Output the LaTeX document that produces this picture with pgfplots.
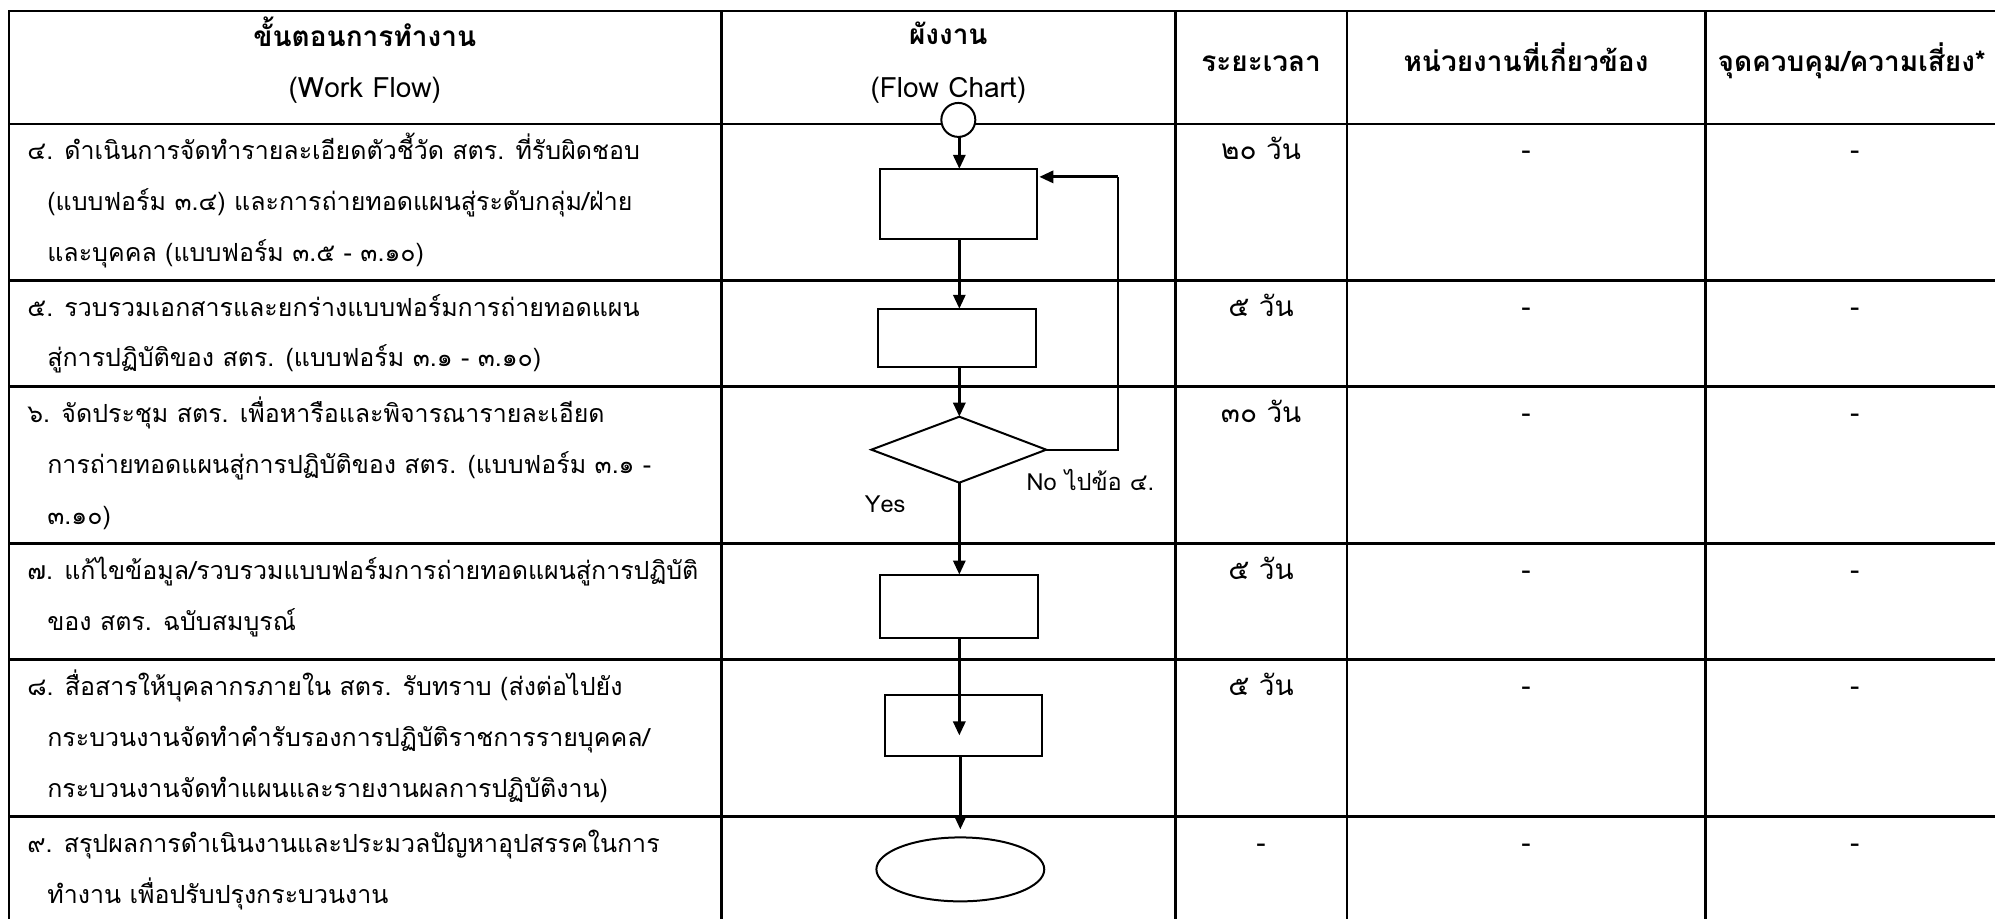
\documentclass[border=0pt]{standalone}
\usepackage{fontspec}
\setmainfont[Script=Thai]{Loma}
\usepackage{pgfplots}
\pgfplotsset{compat=1.18}
\usetikzlibrary{arrows.meta}
\tikzset{
  tl/.style={black, line width=1.4pt, mark=none, line cap=rect},
  bx/.style={black, line width=1pt, mark=none, fill=white},
  ar/.style={black, line width=1.5pt, mark=none, -{Triangle[length=7pt,width=6pt]}},
  txt/.style={anchor=base west, inner sep=0pt, font=\fontsize{12.5}{15}\selectfont},
  lbl/.style={anchor=base west, inner sep=0pt, font=\fontsize{11.8}{14}\selectfont},
  ctr/.style={anchor=base, inner sep=0pt, font=\fontsize{14}{16}\selectfont},
  hd/.style={anchor=base, inner sep=0pt, font=\fontsize{14}{16}\selectfont\bfseries},
}
\begin{document}
\begin{tikzpicture}
\begin{axis}[hide axis, scale only axis, x=0.5pt, y=0.5pt, y dir=reverse,
  xmin=0, xmax=1995, ymin=0, ymax=918, clip=false]
% bounding frame (invisible)
\addplot[draw=none, mark=none] coordinates {(0,0) (1995,918)};
% table horizontal lines
\addplot[tl] coordinates {(9,11) (1995,11)};
\addplot[tl] coordinates {(9,124) (1995,124)};
\addplot[tl] coordinates {(9,281) (1995,281)};
\addplot[tl] coordinates {(9,387) (1995,387)};
\addplot[tl] coordinates {(9,544) (1995,544)};
\addplot[tl] coordinates {(9,660) (1995,660)};
\addplot[tl] coordinates {(9,817) (1995,817)};
% table vertical lines
\addplot[tl] coordinates {(9,11) (9,918)};
\addplot[tl] coordinates {(722,11) (722,918)};
\addplot[tl] coordinates {(1176,11) (1176,918)};
\addplot[tl] coordinates {(1348,11) (1348,918)};
\addplot[tl] coordinates {(1707,11) (1707,918)};
% headers
\node[hd] at (axis cs:365,47) {ขั้นตอนการทำงาน};
\node[ctr] at (axis cs:365,98) {(Work Flow)};
\node[hd] at (axis cs:949,45) {ผังงาน};
\node[ctr] at (axis cs:949,98) {(Flow Chart)};
\node[hd] at (axis cs:1262,72) {ระยะเวลา};
\node[hd] at (axis cs:1527,72) {หน่วยงานที่เกี่ยวข้อง};
\node[hd] at (axis cs:1853,72) {จุดควบคุม/ความเสี่ยง*};
% row 4
\node[txt] at (axis cs:27,160) {๔. ดำเนินการจัดทำรายละเอียดตัวชี้วัด สตร. ที่รับผิดชอบ};
\node[txt] at (axis cs:47,211) {(แบบฟอร์ม ๓.๔) และการถ่ายทอดแผนสู่ระดับกลุ่ม/ฝ่าย};
\node[txt] at (axis cs:47,262) {และบุคคล (แบบฟอร์ม ๓.๕ - ๓.๑๐)};
% row 5
\node[txt] at (axis cs:27,317) {๕. รวบรวมเอกสารและยกร่างแบบฟอร์มการถ่ายทอดแผน};
\node[txt] at (axis cs:47,367) {สู่การปฏิบัติของ สตร. (แบบฟอร์ม ๓.๑ - ๓.๑๐)};
% row 6
\node[txt] at (axis cs:27,423) {๖. จัดประชุม สตร. เพื่อหารือและพิจารณารายละเอียด};
\node[txt] at (axis cs:47,474) {การถ่ายทอดแผนสู่การปฏิบัติของ สตร. (แบบฟอร์ม ๓.๑ -};
\node[txt] at (axis cs:47,525) {๓.๑๐)};
% row 7
\node[txt] at (axis cs:27,580) {๗. แก้ไขข้อมูล/รวบรวมแบบฟอร์มการถ่ายทอดแผนสู่การปฏิบัติ};
\node[txt] at (axis cs:47,631) {ของ สตร. ฉบับสมบูรณ์};
% row 8
\node[txt] at (axis cs:27,696) {๘. สื่อสารให้บุคลากรภายใน สตร. รับทราบ (ส่งต่อไปยัง};
\node[txt] at (axis cs:47,747) {กระบวนงานจัดทำคำรับรองการปฏิบัติราชการรายบุคคล/};
\node[txt] at (axis cs:47,798) {กระบวนงานจัดทำแผนและรายงานผลการปฏิบัติงาน)};
% row 9
\node[txt] at (axis cs:27,853) {๙. สรุปผลการดำเนินงานและประมวลปัญหาอุปสรรคในการ};
\node[txt] at (axis cs:47,904) {ทำงาน เพื่อปรับปรุงกระบวนงาน};
% duration column
\node[ctr] at (axis cs:1262,160) {๒๐ วัน};
\node[ctr] at (axis cs:1262,317) {๕ วัน};
\node[ctr] at (axis cs:1262,423) {๓๐ วัน};
\node[ctr] at (axis cs:1262,580) {๕ วัน};
\node[ctr] at (axis cs:1262,696) {๕ วัน};
\node[ctr] at (axis cs:1262,853) {-};
% related units and control points
\node[ctr] at (axis cs:1527,160) {-};
\node[ctr] at (axis cs:1527,317) {-};
\node[ctr] at (axis cs:1527,423) {-};
\node[ctr] at (axis cs:1527,580) {-};
\node[ctr] at (axis cs:1527,696) {-};
\node[ctr] at (axis cs:1527,853) {-};
\node[ctr] at (axis cs:1856,160) {-};
\node[ctr] at (axis cs:1856,317) {-};
\node[ctr] at (axis cs:1856,423) {-};
\node[ctr] at (axis cs:1856,580) {-};
\node[ctr] at (axis cs:1856,696) {-};
\node[ctr] at (axis cs:1856,853) {-};
% flowchart connectors
\addplot[ar] coordinates {(960,137) (960,169)};
\addplot[ar] coordinates {(960,239) (960,309)};
\addplot[ar] coordinates {(960,367) (960,417)};
\addplot[ar] coordinates {(960,483) (960,575)};
% feedback loop
\addplot[black, line width=1pt, mark=none] coordinates {(1047,450) (1119,450) (1119,177)};
\addplot[ar] coordinates {(1119,177) (1040,177)};
% boxes
\addplot[bx] coordinates {(881,169) (1038,169) (1038,239) (881,239)} -- cycle;
\addplot[bx] coordinates {(879,309) (1037,309) (1037,367) (879,367)} -- cycle;
\addplot[bx] coordinates {(872,450) (960,417) (1047,450) (960,483)} -- cycle;
\addplot[bx] coordinates {(881,575) (1039,575) (1039,638) (881,638)} -- cycle;
\addplot[bx] coordinates {(886,695) (1043,695) (1043,757) (886,757)} -- cycle;
% arrow through box 4 and to the end
\addplot[ar] coordinates {(960,638) (960,736)};
\addplot[ar] coordinates {(961,757) (961,830)};
% start circle and end ellipse
\addplot[black, mark=*, mark size=8.5pt, mark options={fill=white, line width=1pt}] coordinates {(959,120)};
\addplot[black, mark=*, mark size=16pt, mark options={fill=white, line width=1pt, xscale=2.625}] coordinates {(961,870)};
% decision labels
\node[lbl] at (axis cs:865,513) {Yes};
\node[lbl] at (axis cs:1027,491) {No ไปข้อ ๔.};
\end{axis}
\end{tikzpicture}
\end{document}
